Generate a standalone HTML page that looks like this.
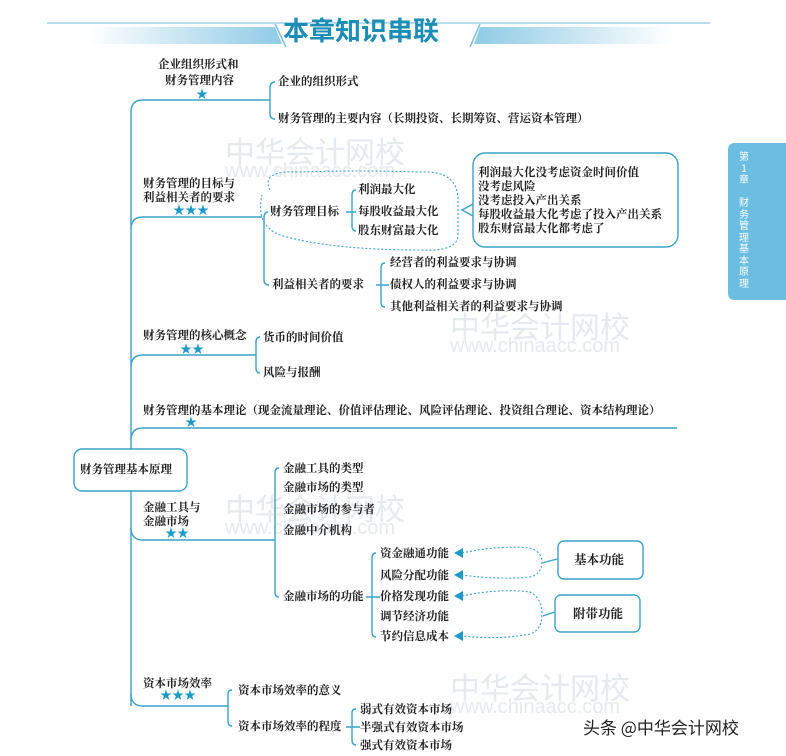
<!DOCTYPE html>
<html><head><meta charset="utf-8"><style>
body{margin:0;width:786px;height:756px;background:#fff;position:relative;overflow:hidden;font-family:"Liberation Serif","Noto Serif CJK SC",serif;}
.t{position:absolute;font-size:11.5px;font-weight:bold;color:#222;white-space:nowrap;line-height:14px;}
.s{position:absolute;color:#1f9ac8;font-size:12px;line-height:12px;}
.wm{position:absolute;color:#e6e9ed;font-family:"Liberation Sans","Noto Sans CJK SC",sans-serif;white-space:nowrap;}
</style></head><body>
<div class="wm" style="left:225px;top:128px;font-size:30px">中华会计网校</div>
<div class="wm" style="left:225px;top:160px;font-size:20px">www.chinaacc.com</div>
<div class="wm" style="left:450px;top:303px;font-size:30px">中华会计网校</div>
<div class="wm" style="left:450px;top:335px;font-size:20px">www.chinaacc.com</div>
<div class="wm" style="left:225px;top:485px;font-size:30px">中华会计网校</div>
<div class="wm" style="left:225px;top:517px;font-size:20px">www.chinaacc.com</div>
<div class="wm" style="left:450px;top:664px;font-size:30px">中华会计网校</div>
<div class="wm" style="left:450px;top:696px;font-size:20px">www.chinaacc.com</div>
<svg width="786" height="756" style="position:absolute;left:0;top:0">
<defs>
<linearGradient id="g1" x1="0" x2="1"><stop offset="0" stop-color="#fff"/><stop offset="1" stop-color="#8fcbe6"/></linearGradient>
<linearGradient id="g2" x1="0" x2="1"><stop offset="0" stop-color="#8fcbe6"/><stop offset="1" stop-color="#fff"/></linearGradient>
</defs>
<line x1="47" y1="23" x2="710" y2="23" stroke="#9fd2ea" stroke-width="1.5"/>
<polygon points="88,27 275,27 282,44 88,44" fill="url(#g1)"/>
<polygon points="480,27 672,27 672,44 474,44" fill="url(#g2)"/>
<line x1="275" y1="24" x2="286" y2="47" stroke="#7cc0e0" stroke-width="1.5"/>
<line x1="480" y1="24" x2="470" y2="47" stroke="#7cc0e0" stroke-width="1.5"/>
<g fill="none" stroke="#3ba2c9" stroke-width="1.4">
<path d="M131,706 V112 Q131,100 143,100 H270"/>
<path d="M270,88 Q270,82 275,82 M270,88 V114 Q270,119 275,119"/>
<path d="M131,229 Q131,217 143,217 H262"/>
<path d="M264,217 V280 Q264,285 269,285 M264,217 V218 Q264,212 268,212"/>
<path d="M352,195 Q352,190 356,190 M352,195 V226 Q352,231 356,231 M346,212 H356"/>
<path d="M381,268 Q381,263 385,263 M381,268 V302 Q381,307 385,307 M376,285 H389"/>
<path d="M131,367 Q131,355 143,355 H256"/>
<path d="M256,342 Q256,337 260,337 M256,342 V368 Q256,373 260,373"/>
<path d="M131,440 Q131,428 143,428 H677"/>
<path d="M131,528 Q131,540 143,540 H275"/>
<path d="M275,473 Q275,468 279,468 M275,473 V592 Q275,597 279,597"/>
<path d="M372,558 Q372,553 376,553 M372,558 V632 Q372,637 376,637 M366,597 H380"/>
<path d="M131,694 Q131,706 143,706 H228"/>
<path d="M228,694 Q228,690 232,690 M228,694 V721 Q228,726 232,726"/>
<path d="M352,713 Q352,709 356,709 M352,713 V740 Q352,745 356,745 M346,727 H360"/>
<rect x="473" y="153" width="205" height="94" rx="12"/>
<rect x="74" y="449" width="113" height="42" rx="8" fill="#fff"/>
<rect x="558" y="541" width="85" height="38" rx="6"/>
<rect x="555" y="595" width="85" height="37" rx="6"/>
<path d="M473,204 L462,210 L473,216"/>
<path d="M558,559 Q548,561 543,563 M555,612 Q548,614 543,616"/>
</g>
<g fill="none" stroke="#3ba2c9" stroke-width="1.1" stroke-dasharray="2,2">
<path d="M270,190 Q260,170 300,172 Q360,170 420,172 Q458,170 458,200 V235 Q458,252 420,250 Q330,250 280,235 Q255,225 262,195"/>
<path d="M462,553 Q500,545 530,548 Q542,552 542,562 Q542,574 530,577 Q500,580 462,575"/>
<path d="M462,596 Q500,588 530,592 Q542,598 542,614 Q542,630 530,634 Q500,640 462,636"/>
</g>
<g fill="#1f9ac8">
<polygon points="454,553 463,548 463,558"/><polygon points="454,575 463,570 463,580"/>
<polygon points="454,596 463,591 463,601"/><polygon points="454,636 463,631 463,641"/>
</g>
<path d="M735,143 H786 V300 H735 Q728,300 728,293 V150 Q728,143 735,143Z" fill="#6cbde2"/>
</svg>
<div style="position:absolute;left:283px;top:14px;font-size:26px;font-weight:bold;color:#1e8db5;font-family:'Noto Sans CJK SC',sans-serif;line-height:32px;">本章知识串联</div>
<div style="position:absolute;left:737px;top:150px;width:14px;font-size:10px;line-height:11.5px;color:#fff;font-family:'Noto Sans CJK SC',sans-serif;text-align:center">第<br>1<br>章<br><br>财<br>务<br>管<br>理<br>基<br>本<br>原<br>理</div>

<div class="t" style="left:158px;top:58px">企业组织形式和</div>
<div class="t" style="left:165px;top:74px">财务管理内容</div>
<div class="s" style="left:196px;top:88px">★</div>
<div class="t" style="left:278px;top:75px">企业的组织形式</div>
<div class="t" style="left:278px;top:112px">财务管理的主要内容（长期投资、长期筹资、营运资本管理）</div>

<div class="t" style="left:143px;top:177px">财务管理的目标与</div>
<div class="t" style="left:143px;top:191px">利益相关者的要求</div>
<div class="s" style="left:173px;top:204px">★★★</div>
<div class="t" style="left:270px;top:205px">财务管理目标</div>
<div class="t" style="left:358px;top:183px">利润最大化</div>
<div class="t" style="left:358px;top:205px">每股收益最大化</div>
<div class="t" style="left:358px;top:224px">股东财富最大化</div>
<div class="t" style="left:478px;top:166px">利润最大化没考虑资金时间价值</div>
<div class="t" style="left:478px;top:180px">没考虑风险</div>
<div class="t" style="left:478px;top:194px">没考虑投入产出关系</div>
<div class="t" style="left:478px;top:208px">每股收益最大化考虑了投入产出关系</div>
<div class="t" style="left:478px;top:222px">股东财富最大化都考虑了</div>
<div class="t" style="left:272px;top:278px">利益相关者的要求</div>
<div class="t" style="left:390px;top:256px">经营者的利益要求与协调</div>
<div class="t" style="left:390px;top:278px">债权人的利益要求与协调</div>
<div class="t" style="left:390px;top:300px">其他利益相关者的利益要求与协调</div>

<div class="t" style="left:143px;top:329px">财务管理的核心概念</div>
<div class="s" style="left:180px;top:343px">★★</div>
<div class="t" style="left:263px;top:331px">货币的时间价值</div>
<div class="t" style="left:263px;top:366px">风险与报酬</div>

<div class="t" style="left:143px;top:404px">财务管理的基本理论（现金流量理论、价值评估理论、风险评估理论、投资组合理论、资本结构理论）</div>
<div class="s" style="left:185px;top:416px">★</div>

<div class="t" style="left:80px;top:463px">财务管理基本原理</div>

<div class="t" style="left:143px;top:501px">金融工具与</div>
<div class="t" style="left:143px;top:515px">金融市场</div>
<div class="s" style="left:165px;top:527px">★★</div>
<div class="t" style="left:283px;top:462px">金融工具的类型</div>
<div class="t" style="left:283px;top:481px">金融市场的类型</div>
<div class="t" style="left:283px;top:503px">金融市场的参与者</div>
<div class="t" style="left:283px;top:524px">金融中介机构</div>
<div class="t" style="left:283px;top:590px">金融市场的功能</div>
<div class="t" style="left:380px;top:547px">资金融通功能</div>
<div class="t" style="left:380px;top:569px">风险分配功能</div>
<div class="t" style="left:380px;top:590px">价格发现功能</div>
<div class="t" style="left:380px;top:610px">调节经济功能</div>
<div class="t" style="left:380px;top:630px">节约信息成本</div>
<div class="t" style="left:574px;top:553px;font-size:12.5px">基本功能</div>
<div class="t" style="left:573px;top:607px;font-size:12.5px">附带功能</div>

<div class="t" style="left:143px;top:677px">资本市场效率</div>
<div class="s" style="left:160px;top:689px">★★★</div>
<div class="t" style="left:238px;top:684px">资本市场效率的意义</div>
<div class="t" style="left:238px;top:720px">资本市场效率的程度</div>
<div class="t" style="left:360px;top:703px">弱式有效资本市场</div>
<div class="t" style="left:360px;top:721px">半强式有效资本市场</div>
<div class="t" style="left:360px;top:739px">强式有效资本市场</div>

<div style="position:absolute;left:583px;top:716px;font-size:17px;color:#222;font-family:'Noto Sans CJK SC',sans-serif;white-space:nowrap;line-height:22px">头条 @中华会计网校</div>
</body></html>
